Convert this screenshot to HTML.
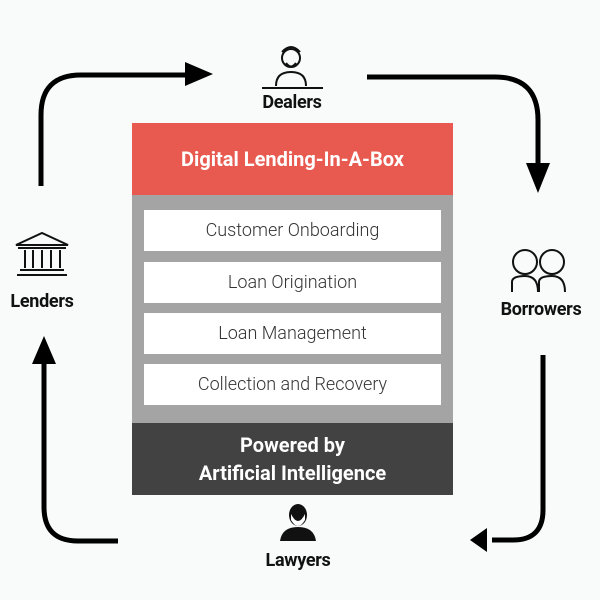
<!DOCTYPE html>
<html><head><style>
body{margin:0;width:600px;height:600px;background:#f9fafa;font-family:"Roboto","Liberation Sans",sans-serif;position:relative;overflow:hidden}
.a{position:absolute}
.lbl{position:absolute;font-weight:bold;font-size:18px;color:#111;text-align:center;width:120px;letter-spacing:-0.3px}
.row{position:absolute;left:144px;width:297px;height:41px;background:#fff;color:#333;font-size:18px;font-weight:300;text-align:center;line-height:41px}
</style></head><body>
<div class="a" style="left:132px;top:123px;width:321px;height:72px;background:#e85a4f;color:#fff;font-weight:bold;font-size:20px;text-align:center;line-height:72px">Digital Lending-In-A-Box</div>
<div class="a" style="left:132px;top:195px;width:321px;height:228px;background:#a4a4a4"></div>
<div class="row" style="top:210px">Customer Onboarding</div>
<div class="row" style="top:262px">Loan Origination</div>
<div class="row" style="top:313px">Loan Management</div>
<div class="row" style="top:364px">Collection and Recovery</div>
<div class="a" style="left:132px;top:423px;width:321px;height:72px;background:#424242;color:#fff;font-weight:bold;font-size:20px;text-align:center;line-height:28px;padding-top:8px;box-sizing:border-box">Powered by<br>Artificial Intelligence</div>
<div class="lbl" style="left:232px;top:92px">Dealers</div>
<div class="lbl" style="left:-18px;top:291px">Lenders</div>
<div class="lbl" style="left:481px;top:299px">Borrowers</div>
<div class="lbl" style="left:238px;top:550px">Lawyers</div>
<svg class="a" style="left:0;top:0" width="600" height="600">
<g fill="none" stroke="#000" stroke-width="5">
<path d="M41 186 V115 Q41 75 81 75 H188"/>
<path d="M367 77 H495 Q538 77 538 120 V170"/>
<path d="M543 355 V510 Q543 540 513 540 H492"/>
<path d="M118 541 H78 Q44 541 44 507 V360"/>
</g>
<g fill="#000">
<polygon points="185,62 213,74 185,86"/>
<polygon points="526,163 550,163 538,193"/>
<polygon points="487,528 487,552 470,540"/>
<polygon points="32,364 56,364 44,336"/>
</g>
<g fill="none" stroke="#111" stroke-width="2">
<circle cx="291" cy="58" r="9"/><path d="M282 52 Q291 42 300 52"/><path d="M286 63 Q291 70 296 63"/>
<path d="M276 86 Q276 72 291 72 Q306 72 306 86"/><path d="M262 88 H323"/>
<path d="M16 245 L42 233 L68 245 Z"/><path d="M18 248 H66 M20 270 H64 M17 275 H67"/>
<path d="M25 250 V268 M33 250 V268 M42 250 V268 M51 250 V268 M60 250 V268"/>
<circle cx="525" cy="262" r="12"/><circle cx="552" cy="262" r="12"/>
<path d="M512 292 V282 Q512 276 525 276 Q538 276 538 292"/><path d="M539 292 V282 Q539 276 552 276 Q565 276 565 292"/>
</g>
<g fill="#111">
<ellipse cx="298" cy="515" rx="9" ry="11"/>
<path d="M280 541 Q282 527 298 527 Q314 527 316 541 Z"/>
</g>
<path d="M291 514 Q298 528 305 514 V520 Q298 532 291 520Z" fill="#fff"/>
</svg>
</body></html>
